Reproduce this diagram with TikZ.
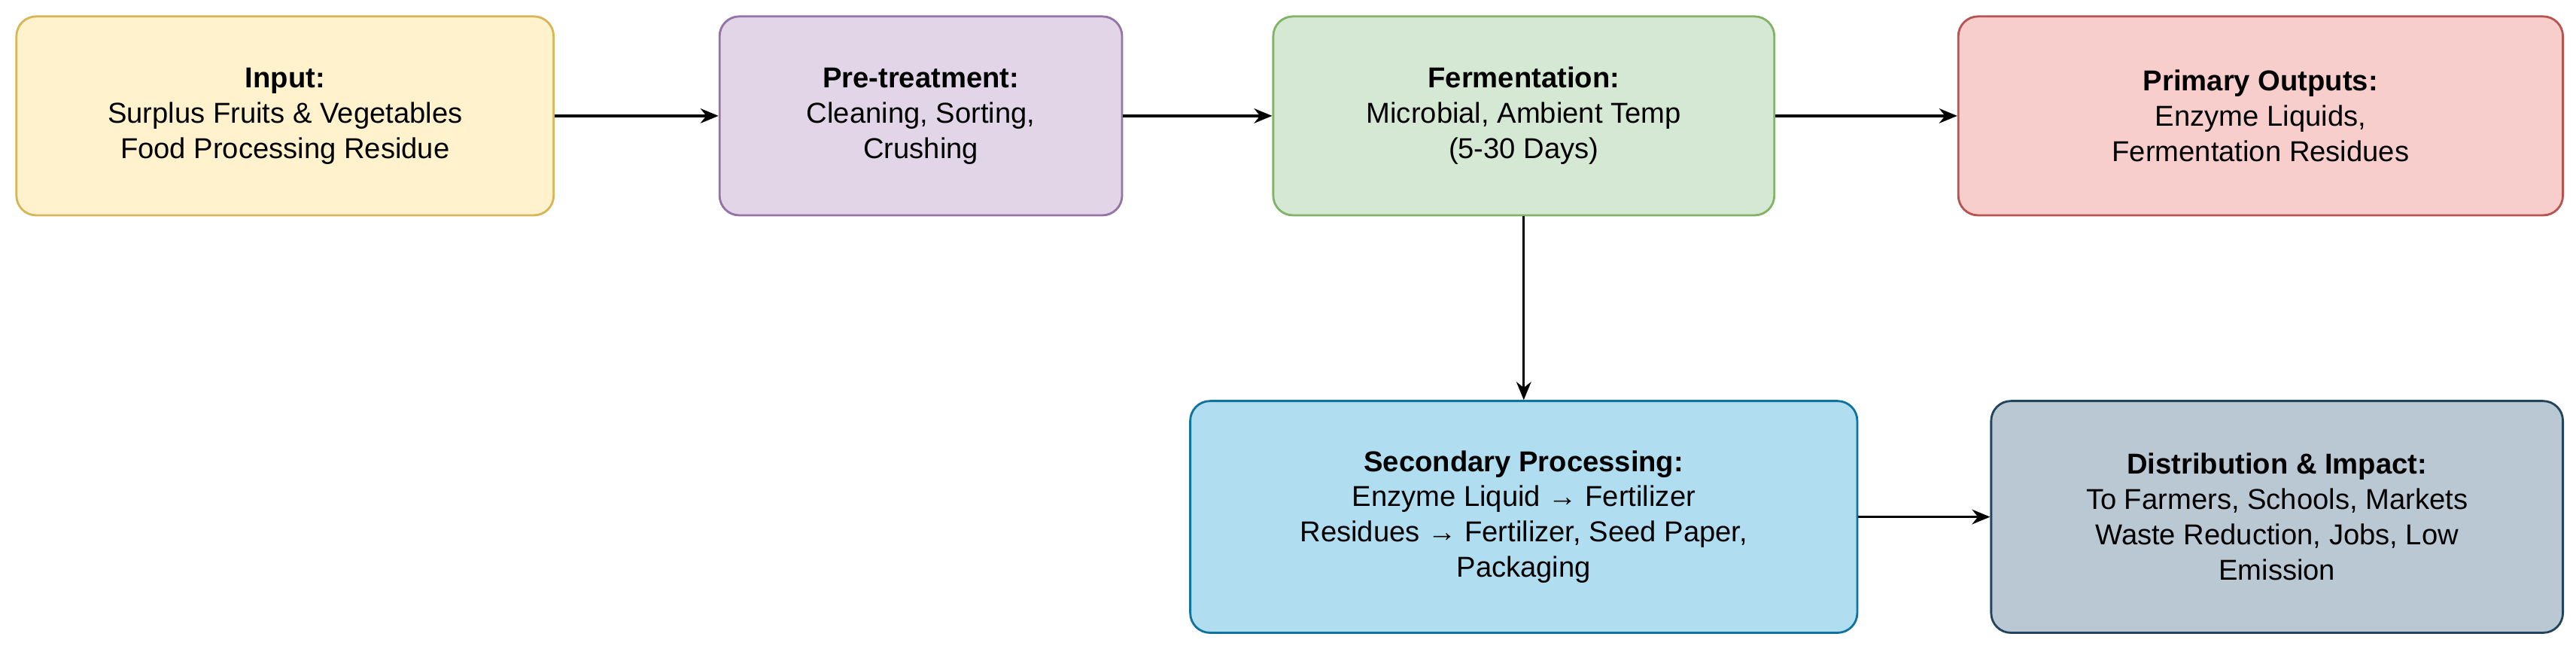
\documentclass[tikz,border=0pt]{standalone}
\usepackage{fontspec}
\setmainfont{Liberation Sans}
\usetikzlibrary{arrows.meta}
\definecolor{yf}{HTML}{FFF2CC}\definecolor{yd}{HTML}{D6B656}
\definecolor{pf}{HTML}{E1D5E7}\definecolor{pd}{HTML}{9673A6}
\definecolor{gf}{HTML}{D5E8D4}\definecolor{gd}{HTML}{82B366}
\definecolor{rf}{HTML}{F8CECC}\definecolor{rd}{HTML}{B85450}
\definecolor{bf}{HTML}{B1DDF0}\definecolor{bd}{HTML}{10739E}
\definecolor{sf}{HTML}{BAC8D3}\definecolor{sd}{HTML}{23445D}
\begin{document}
\begin{tikzpicture}[x=1pt,y=1pt,
 box/.style={rounded corners=12pt,line width=1.3pt,align=center,font=\fontsize{17.5}{21.5}\selectfont,inner sep=0pt},
 arr/.style={-{Stealth[length=11pt,width=9pt]},line width=1.5pt}]
\useasboundingbox (0,0) rectangle (1568,400);
\newcommand{\bx}[7]{\node[box,fill=#5,draw=#6,minimum width=#3pt,minimum height=#4pt] (#1) at (#2) {#7};}
\bx{in}{173.5,329.5}{327}{121}{yf}{yd}{\textbf{Input:}\\Surplus Fruits \& Vegetables\\Food Processing Residue}
\bx{pre}{560.5,329.5}{245}{121}{pf}{pd}{\textbf{Pre-treatment:}\\Cleaning, Sorting,\\Crushing}
\bx{fer}{927.5,329.5}{305}{121}{gf}{gd}{\textbf{Fermentation:}\\Microbial, Ambient Temp\\(5-30 Days)}
\bx{pri}{1376,329.5}{368}{121}{rf}{rd}{\textbf{Primary Outputs:}\\Enzyme Liquids,\\Fermentation Residues}
\bx{sec}{927.5,85.5}{406}{141}{bf}{bd}{\textbf{Secondary Processing:}\\Enzyme Liquid \textbf{→} Fertilizer\\Residues \textbf{→} Fertilizer, Seed Paper,\\Packaging}
\bx{dis}{1386,85.5}{348}{141}{sf}{sd}{\textbf{Distribution \& Impact:}\\To Farmers, Schools, Markets\\Waste Reduction, Jobs, Low\\Emission}
\draw[arr] (in) -- (pre);
\draw[arr] (pre) -- (fer);
\draw[arr] (fer) -- (pri);
\draw[arr] (fer.south) -- (fer.south |- sec.north);
\draw[arr] (sec) -- (dis);
\end{tikzpicture}
\end{document}
